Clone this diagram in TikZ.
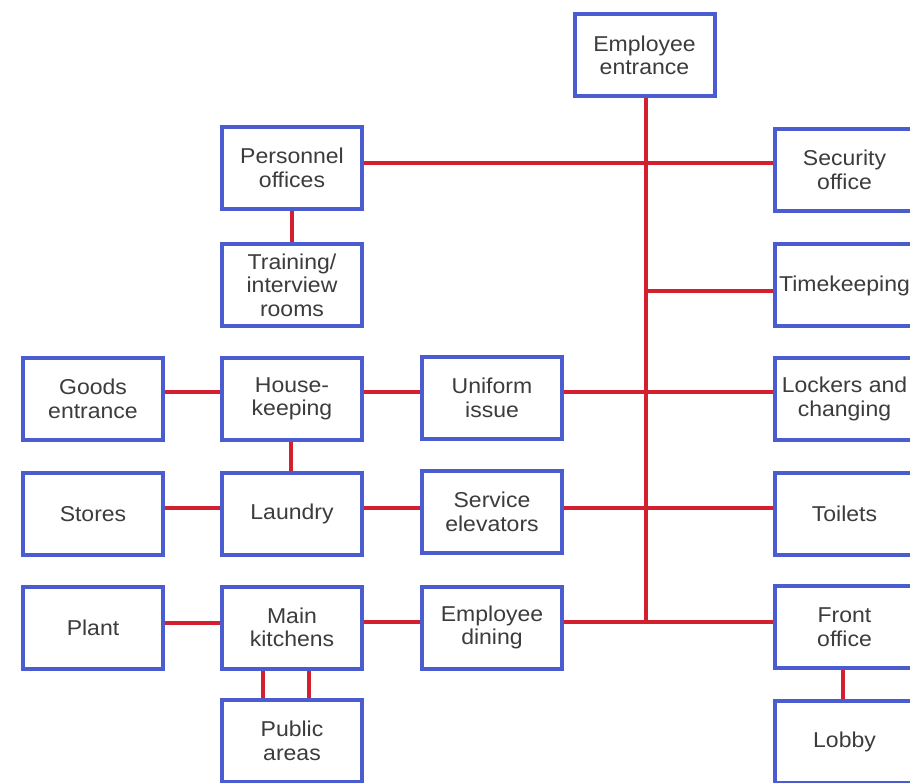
\documentclass[tikz,border=0pt]{standalone}
\usepackage{fontspec}
\setmainfont[FakeStretch=1.07]{Liberation Sans}
\usetikzlibrary{backgrounds}
\definecolor{boxblue}{HTML}{4A5CD0}
\definecolor{linered}{HTML}{D2202E}
\definecolor{txtgrey}{HTML}{3C3C3C}
\begin{document}
\begin{tikzpicture}[x=1pt,y=-1pt,
  box/.style={draw=boxblue, line width=4pt, minimum width=140pt, minimum height=82pt,
    inner sep=0pt, align=center, text=txtgrey, fill=white,
    font=\fontsize{21.5}{23.5}\selectfont},
  link/.style={draw=linered, line width=4pt}]
\useasboundingbox (0,0) rectangle (910,783);
% column x: 93, 292, 492, 644.5, 844.5 ; row y: 55.5,168,285.5,399,513.5,627.5,742
\node[box] (entr) at (644.5,55.5) {Employee\\entrance};
\node[box] (pers) at (292,168) {Personnel\\offices};
\node[box] (secu) at (844.5,170) {Security\\office};
\node[box] (trai) at (292,285) {Training/\\interview\\rooms};
\node[box] (time) at (844.5,285.5) {Timekeeping};
\node[box] (good) at (93,399) {Goods\\entrance};
\node[box] (hous) at (292,399) {House-\\keeping};
\node[box] (unif) at (492,398) {Uniform\\issue};
\node[box] (lock) at (844.5,399) {Lockers and\\changing};
\node[box] (stor) at (93,514) {Stores};
\node[box] (laun) at (292,513.5) {Laundry};
\node[box] (serv) at (492,512) {Service\\elevators};
\node[box] (toil) at (844.5,514) {Toilets};
\node[box] (plan) at (93,628) {Plant};
\node[box] (kitc) at (292,627.5) {Main\\kitchens};
\node[box] (dini) at (492,627.5) {Employee\\dining};
\node[box] (fron) at (844.5,627) {Front\\office};
\node[box] (publ) at (292,741) {Public\\areas};
\node[box] (lobb) at (844.5,742) {Lobby};
\coordinate (dinl) at ([yshift=5.5pt]dini.east);
\coordinate (timl) at ([yshift=-6pt]time.west);
\begin{scope}[on background layer]
  % trunk
  \draw[link] ([xshift=1.5pt]entr.south) -- ([xshift=1.5pt]entr.south |- dinl);
  \draw[link] ([yshift=5pt]pers.east) -- ([yshift=5pt]pers.east -| secu.west);
  \draw[link] ([xshift=1.5pt]entr.south |- timl) -- (timl);
  \draw[link] ([yshift=6pt]unif.east) -- ([yshift=6pt]unif.east -| lock.west);
  \draw[link] ([yshift=4pt]serv.east) -- ([yshift=4pt]serv.east -| toil.west);
  \draw[link] (dinl) -- (dinl -| fron.west);
  % left part
  \draw[link] (pers.south) -- (trai.north);
  \draw[link] ([yshift=7pt]good.east) -- ([yshift=7pt]good.east -| hous.west);
  \draw[link] ([yshift=7pt]hous.east) -- ([yshift=7pt]hous.east -| unif.west);
  \draw[link] ([xshift=-1pt]hous.south) -- ([xshift=-1pt]hous.south |- laun.north);
  \draw[link] ([yshift=6pt]stor.east) -- ([yshift=6pt]stor.east -| laun.west);
  \draw[link] ([yshift=5.5pt]laun.east) -- ([yshift=5.5pt]laun.east -| serv.west);
  \draw[link] ([yshift=5.5pt]plan.east) -- ([yshift=5.5pt]plan.east -| kitc.west);
  \draw[link] ([yshift=5.5pt]kitc.east) -- (dinl -| dini.west);
  \draw[link] ([xshift=-29pt]kitc.south) -- ([xshift=-29pt]kitc.south |- publ.north);
  \draw[link] ([xshift=17pt]kitc.south) -- ([xshift=17pt]kitc.south |- publ.north);
  \draw[link] ([xshift=-1.5pt]fron.south) -- ([xshift=-1.5pt]fron.south |- lobb.north);
\end{scope}
\end{tikzpicture}
\end{document}
